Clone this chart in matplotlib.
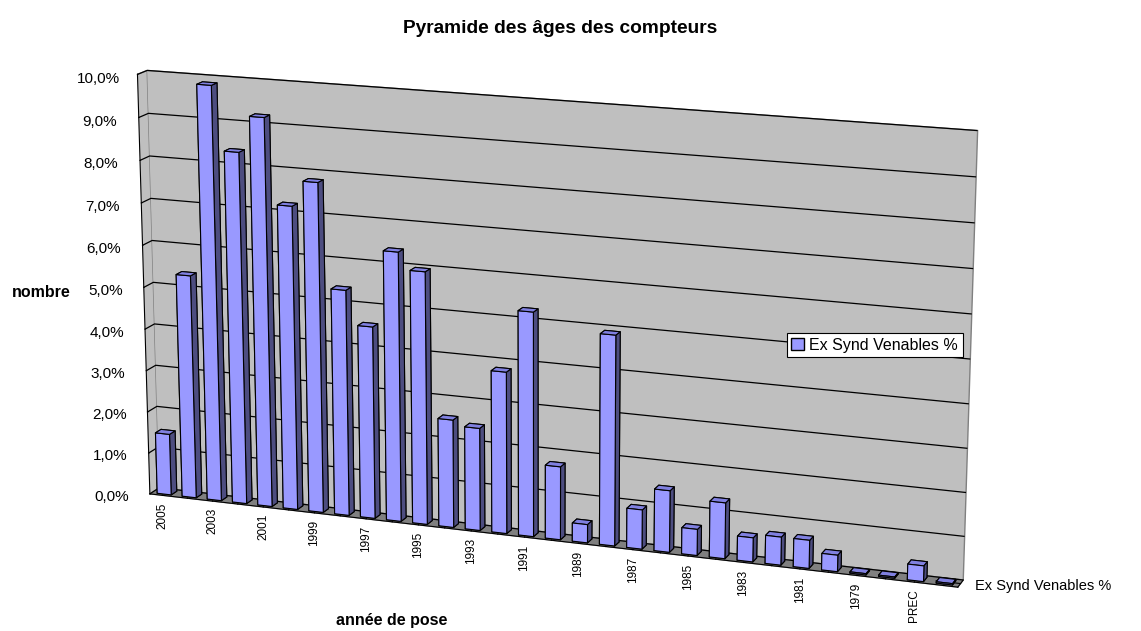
import numpy as np
import matplotlib
matplotlib.use("Agg")
import matplotlib.pyplot as plt
from matplotlib.patches import Patch
from matplotlib.ticker import FuncFormatter, MultipleLocator

plt.rcParams['font.family'] = ['Liberation Sans', 'DejaVu Sans']

# data (percent of meters by year of installation)
annees = ["2005", "2004", "2003", "2002", "2001", "2000", "1999", "1998",
          "1997", "1996", "1995", "1994", "1993", "1992", "1991", "1990",
          "1989", "1988", "1987", "1986", "1985", "1984", "1983", "1982",
          "1981", "1980", "1979", "1978", "PREC", "NC"]
valeurs = [1.48, 5.35, 9.85, 8.35, 9.2, 7.2, 7.8, 5.35,
           4.55, 6.35, 5.95, 2.55, 2.42, 3.8, 5.25, 1.72,
           0.43, 4.9, 0.92, 1.44, 0.61, 1.3, 0.56, 0.65,
           0.65, 0.38, 0.03, 0.03, 0.36, 0.03]
serie = "Ex Synd Venables %"

bar_color = "#9999FF"
# face colours of each column: bottom, top, front, back, left, right
face_colors = ["#4D4D80", "#8080E0", bar_color, "#4D4D80", "#4D4D80", "#4D4D80"]

fig = plt.figure(figsize=(11.41, 6.31), dpi=100)
ax = fig.add_axes([0.0465, -0.284, 0.834, 1.507], projection='3d',
                  proj_type='persp', focal_length=0.7)

x = np.arange(len(annees))
ax.bar3d(x - 0.28, np.full(len(x), 0.2), np.zeros(len(x)), 0.56, 0.6, valeurs,
         color=face_colors * len(x), edgecolor='black', linewidth=0.8, shade=False)

ax.set_xlim(-0.5, len(x) - 0.5)
ax.set_ylim(0, 1)
ax.set_zlim(0, 10)
ax.set_box_aspect((6.2, 0.16, 3.2), zoom=1.0)
ax.view_init(elev=15, azim=-70)

# walls
ax.xaxis.set_pane_color((0.75, 0.75, 0.75, 1.0))
ax.yaxis.set_pane_color((0.75, 0.75, 0.75, 1.0))
ax.zaxis.set_pane_color((0.5, 0.5, 0.5, 1.0))
for a in (ax.xaxis, ax.yaxis, ax.zaxis):
    a.pane.set_edgecolor((0.5, 0.5, 0.5, 1.0))
    a.line.set_color('black')
    a._axinfo['tick'].update(inward_factor=0.0, outward_factor=0.35)
ax.xaxis._axinfo['grid'].update(linewidth=0, color=(0, 0, 0, 0))
ax.yaxis._axinfo['grid'].update(linewidth=0, color=(0, 0, 0, 0))
ax.zaxis._axinfo['grid'].update(linewidth=0.9, color='black')

# category axis
ax.set_xticks(x)
ax.set_xticklabels([a if i % 2 == 0 else "" for i, a in enumerate(annees)],
                   fontsize=8.5, rotation=90, va='top', ha='center')
ax.tick_params(axis='x', pad=-2)

# series axis
ax.set_yticks([0.5])
ax.set_yticklabels([serie], fontsize=10.5, ha='left', va='bottom')
ax.tick_params(axis='y', pad=-2)

# value axis, on the front left edge
ax.zaxis.set_ticks_position('lower')
ax.zaxis.set_label_position('lower')
ax.zaxis.set_major_locator(MultipleLocator(1))
ax.zaxis.set_major_formatter(FuncFormatter(lambda v, p: f"{v:.1f}%".replace('.', ',')))
ax.tick_params(axis='z', labelsize=11, pad=10)

fig.text(0.491, 0.955, "Pyramide des âges des compteurs", ha='center', va='center',
         fontsize=13.8, fontweight='bold')
fig.text(0.036, 0.537, "nombre", ha='center', va='center', fontsize=11.5, fontweight='bold')
fig.text(0.343, 0.017, "année de pose", ha='center', va='center', fontsize=11.5, fontweight='bold')

leg = fig.legend(handles=[Patch(facecolor=bar_color, edgecolor='black')], labels=[serie],
                 loc='center', bbox_to_anchor=(0.7665, 0.453), fontsize=11.5,
                 fancybox=False, framealpha=1, edgecolor='black',
                 handlelength=0.8, handleheight=0.8, handletextpad=0.3,
                 borderpad=0.3)
leg.get_frame().set_linewidth(0.8)

fig.savefig("out.png", dpi=100)
